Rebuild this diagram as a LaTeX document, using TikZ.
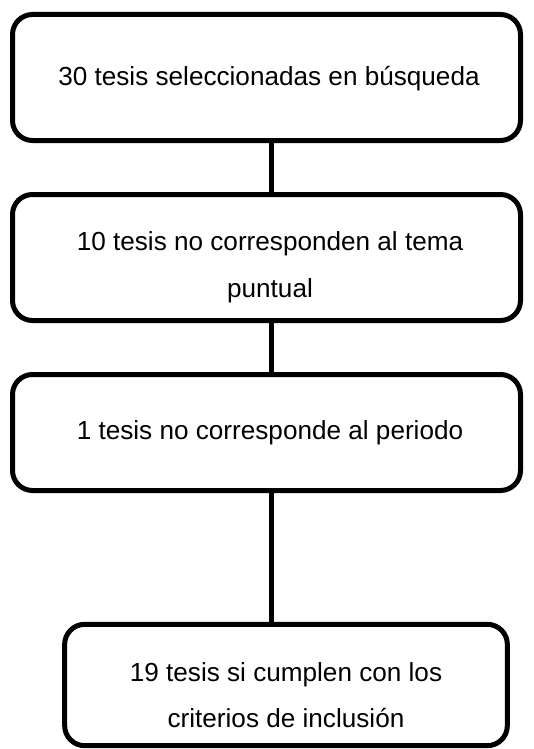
\documentclass[tikz,border=0pt]{standalone}
\usepackage{fontspec}
\setmainfont{Liberation Sans}
\usepackage{tikz}

\tikzset{
  caja/.style={draw=black,line width=3.75pt,rounded corners=15pt,inner sep=0pt},
  texto/.style={align=center,font=\fontsize{19.6}{35}\selectfont},
  linea/.style={line width=3.75pt}
}

\begin{document}
\begin{tikzpicture}[x=0.75pt,y=-0.75pt]
  \useasboundingbox (0,0) rectangle (533,749);
  \node[caja,minimum width=381pt,minimum height=94.5pt] (c1) at (266.5,77.5) {};
  \node[caja,minimum width=381pt,minimum height=94.5pt] (c2) at (266.5,257.5) {};
  \node[caja,minimum width=381pt,minimum height=87pt] (c3) at (266.5,432.5) {};
  \node[caja,minimum width=332pt,minimum height=91pt] (c4) at (286,685) {};
  \node[texto] (t1) at (269,79) {30 tesis seleccionadas en búsqueda};
  \node[texto] (t2) at (270,267) {10 tesis no corresponden al tema\\puntual};
  \node[texto] (t3) at (270,433) {1 tesis no corresponde al periodo};
  \node[texto] (t4) at (286,695) {19 tesis si cumplen con los\\criterios de inclusión};
  % conectores
  \draw[linea] ([xshift=4pt]c1.south) -- ([xshift=4pt]c2.north);
  \draw[linea] ([xshift=4pt]c2.south) -- ([xshift=4pt]c3.north);
  \draw[linea] ([xshift=4pt]c3.south) -- ([xshift=4pt]c3.south |- c4.north);
\end{tikzpicture}
\end{document}
